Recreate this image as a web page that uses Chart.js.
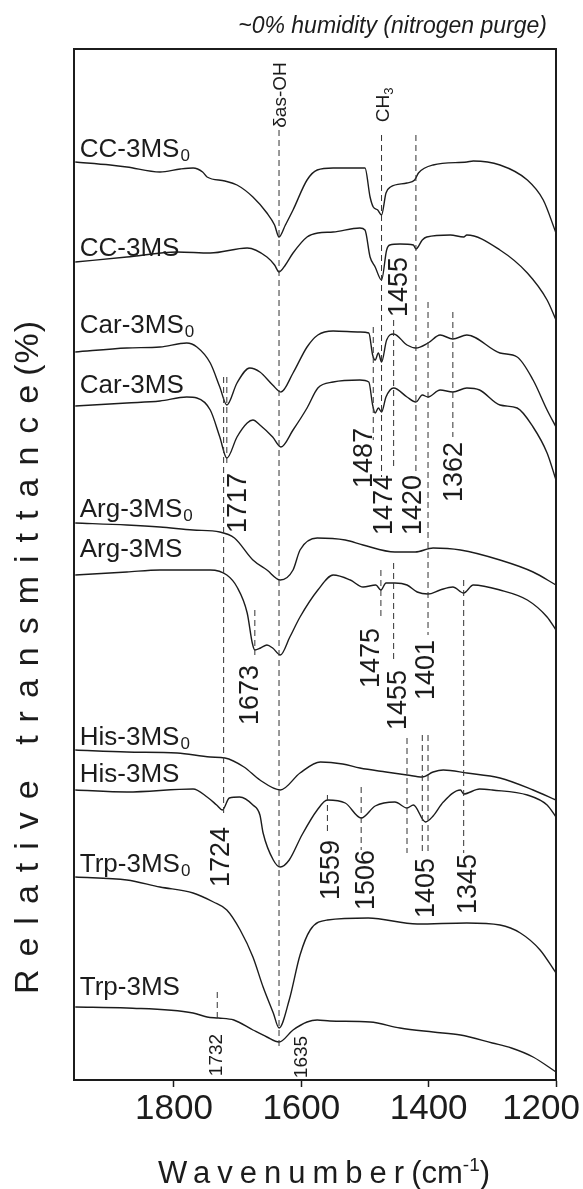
<!DOCTYPE html>
<html>
<head>
<meta charset="utf-8">
<script src="https://cdn.jsdelivr.net/npm/chart.js@4.4.1/dist/chart.umd.min.js"></script>
<style>
  html, body { margin: 0; padding: 0; background: #fff; }
  canvas { display: block; }
</style>
</head>
<body>
<canvas id="ftirChart" width="583" height="1189" style="width:583px;height:1189px"></canvas>
<script>
// --- data: wavenumber (cm-1) and stacked relative transmittance (plot units) ---
const tickValues = [1200, 1400, 1600, 1800];
const xRange = [1200, 1957];
const yRange = [0, 1031];

const ccMs0 = [[1955,918],[1900,915],[1874,913],[1822,908],[1790,911],[1770,912],[1755,908],[1748,903],[1720,899],[1701,895],[1676,883],[1654,867],[1642,855],[1635,843],[1625,855],[1613,870],[1591,900],[1575,910],[1550,912],[1500,912],[1492,883],[1487,873],[1480,870],[1474,865],[1467,887],[1460,893],[1434,897],[1422,900],[1416,907],[1393,915],[1340,918],[1330,919],[1288,915],[1245,900],[1220,880],[1200,847]];
const ccMs = [[1955,818],[1874,823],[1795,828],[1743,827],[1685,832],[1654,823],[1642,815],[1635,808],[1625,815],[1613,827],[1591,843],[1574,847],[1550,848],[1508,852],[1500,850],[1492,823],[1484,813],[1474,800],[1466,830],[1461,835],[1445,836],[1424,835],[1420,831],[1410,840],[1403,843],[1366,845],[1345,843],[1340,845],[1288,830],[1245,807],[1214,780],[1200,760]];
const carMs0 = [[1955,728],[1874,732],[1822,733],[1780,737],[1764,733],[1743,717],[1728,693],[1717,675],[1701,697],[1681,712],[1665,708],[1645,695],[1632,688],[1613,707],[1591,733],[1574,745],[1550,749],[1508,748],[1494,747],[1488,725],[1484,720],[1479,727],[1474,718],[1466,740],[1455,746],[1434,735],[1420,732],[1401,737],[1382,745],[1362,741],[1340,745],[1288,727],[1261,723],[1236,700],[1214,670],[1200,653]];
const carMs = [[1955,674],[1874,677],[1822,679],[1780,683],[1764,682],[1743,670],[1728,643],[1717,622],[1701,643],[1685,657],[1676,660],[1665,655],[1645,643],[1632,633],[1613,650],[1591,672],[1574,692],[1550,698],[1508,700],[1494,698],[1488,675],[1484,667],[1479,672],[1474,668],[1467,683],[1455,692],[1434,683],[1420,678],[1410,685],[1401,683],[1382,690],[1362,688],[1340,692],[1320,690],[1288,675],[1261,672],[1236,653],[1214,627],[1200,600]];
const argMs0 = [[1955,557],[1874,555],[1822,553],[1770,550],[1728,548],[1705,542],[1676,520],[1654,510],[1633,500],[1613,510],[1602,530],[1575,542],[1531,540],[1503,535],[1453,528],[1421,528],[1393,532],[1350,530],[1288,520],[1236,508],[1200,495]];
const argMs = [[1955,505],[1874,508],[1822,510],[1743,510],[1717,505],[1701,493],[1685,467],[1677,437],[1673,430],[1664,432],[1654,435],[1645,432],[1633,425],[1618,443],[1602,463],[1574,490],[1550,505],[1523,500],[1503,493],[1483,495],[1475,490],[1467,497],[1453,497],[1434,495],[1418,488],[1401,486],[1382,490],[1362,493],[1345,487],[1330,495],[1288,490],[1245,480],[1214,463],[1200,450]];
const hisMs0 = [[1955,330],[1874,328],[1795,327],[1743,323],[1720,322],[1690,313],[1665,300],[1633,290],[1602,307],[1570,318],[1535,316],[1508,312],[1467,308],[1434,305],[1410,303],[1393,308],[1377,310],[1340,307],[1288,302],[1236,290],[1200,280]];
const hisMs = [[1955,290],[1874,288],[1770,291],[1748,283],[1733,275],[1724,270],[1713,282],[1697,283],[1676,275],[1665,265],[1660,247],[1644,220],[1633,213],[1619,220],[1599,245],[1575,270],[1559,280],[1531,277],[1506,262],[1484,274],[1453,278],[1434,272],[1424,275],[1405,258],[1393,264],[1377,278],[1350,290],[1345,286],[1320,291],[1300,290],[1245,285],[1214,275],[1200,263]];
const trpMs0 = [[1955,203],[1874,200],[1822,193],[1770,187],[1738,178],[1717,170],[1696,150],[1676,123],[1660,93],[1644,67],[1635,52],[1619,80],[1602,125],[1586,150],[1559,160],[1495,162],[1418,156],[1340,157],[1288,155],[1256,147],[1225,130],[1200,107]];
const trpMs = [[1955,73],[1874,72],[1770,67],[1748,63],[1730,62],[1706,60],[1676,50],[1654,43],[1635,38],[1613,50],[1591,58],[1575,60],[1555,59],[1492,58],[1445,52],[1393,48],[1350,45],[1300,37],[1270,32],[1236,23],[1200,8]];

// sample name, subscript 0?, baseline level
const curveLabels = [
  ['CC-3MS', true, 923], ['CC-3MS', false, 824],
  ['Car-3MS', true, 747], ['Car-3MS', false, 687],
  ['Arg-3MS', true, 563], ['Arg-3MS', false, 523],
  ['His-3MS', true, 335], ['His-3MS', false, 298],
  ['Trp-3MS', true, 208], ['Trp-3MS', false, 85]
];
const curveLabelWn = 1948;

// dashed guide lines: wavenumber, top level, bottom level
const markerLines = [
  [1635, 950, 30], [1474, 945, 603], [1420, 945, 607],
  [1487, 753, 640], [1455, 760, 610], [1401, 778, 445], [1362, 768, 643],
  [1717, 703, 617], [1722, 703, 265], [1673, 470, 425],
  [1475, 510, 460], [1455, 517, 420],
  [1434, 342, 227], [1410, 345, 227], [1401, 345, 227], [1345, 500, 227],
  [1559, 285, 248], [1506, 293, 230], [1732, 88, 60]
];

// peak numbers (rotated): text, wavenumber, level
const peakLabels = [
  ['1717', 1699, 577], ['1487', 1500, 622], ['1474', 1470, 575], ['1455', 1445, 793],
  ['1420', 1423, 575], ['1362', 1360, 608], ['1673', 1679, 385], ['1475', 1490, 422],
  ['1455', 1447, 380], ['1401', 1404, 410], ['1724', 1726, 223], ['1559', 1553, 210],
  ['1506', 1497, 200], ['1405', 1403, 192], ['1345', 1337, 196]
];
const smallPeakLabels = [['1732', 1732, 25], ['1635', 1600, 23]];

const FONT = '"Liberation Sans", Arial, Helvetica, sans-serif';
const INK = '#1c1c1c';

const toPts = arr => arr.map(p => ({ x: p[0], y: p[1] }));
const curves = [ccMs0, ccMs, carMs0, carMs, argMs0, argMs, hisMs0, hisMs, trpMs0, trpMs];

const datasets = [];
markerLines.forEach(m => {
  datasets.push({
    data: [{ x: m[0], y: m[1] }, { x: m[0], y: m[2] }],
    borderColor: '#333', borderWidth: 1, borderDash: [6, 4], pointRadius: 0
  });
});
curves.forEach(c => {
  datasets.push({
    data: toPts(c), borderColor: INK, borderWidth: 1.4,
    cubicInterpolationMode: 'monotone', pointRadius: 0
  });
});

function rotText(ctx, str, px, py, size) {
  ctx.save();
  ctx.translate(px, py);
  ctx.rotate(-Math.PI / 2);
  ctx.font = size + 'px ' + FONT;
  ctx.textAlign = 'center';
  ctx.textBaseline = 'middle';
  ctx.fillText(str, 0, 0);
  ctx.restore();
}

const decor = {
  id: 'decor',
  afterDraw(chart) {
    const { ctx, chartArea: a, scales: { x, y } } = chart;
    ctx.save();
    ctx.fillStyle = INK;
    ctx.strokeStyle = INK;

    // frame
    ctx.lineWidth = 2;
    ctx.strokeRect(a.left, a.top, a.right - a.left, a.bottom - a.top);

    // tick labels
    ctx.font = '35px ' + FONT;
    ctx.textAlign = 'center';
    ctx.textBaseline = 'alphabetic';
    tickValues.forEach(t => {
      const w = ctx.measureText(String(t)).width;
      const cx = Math.min(x.getPixelForValue(t), chart.width - w / 2 - 3);
      ctx.fillText(String(t), cx, a.bottom + 39);
    });

    // sample names
    curveLabels.forEach(([name, sub, lvl]) => {
      const px = x.getPixelForValue(curveLabelWn), py = y.getPixelForValue(lvl);
      ctx.textAlign = 'left';
      ctx.font = '26px ' + FONT;
      ctx.fillText(name, px, py);
      if (sub) {
        const w = ctx.measureText(name).width;
        ctx.font = '17px ' + FONT;
        ctx.fillText('0', px + w + 1, py + 4);
      }
    });

    // peak numbers
    peakLabels.forEach(([t, wn, lvl]) => rotText(ctx, t, x.getPixelForValue(wn), y.getPixelForValue(lvl), 27));
    smallPeakLabels.forEach(([t, wn, lvl]) => rotText(ctx, t, x.getPixelForValue(wn), y.getPixelForValue(lvl), 19));

    // band assignments
    rotText(ctx, '\u03b4as-OH', x.getPixelForValue(1632), y.getPixelForValue(985), 19);
    ctx.save();
    ctx.translate(x.getPixelForValue(1473), y.getPixelForValue(975));
    ctx.rotate(-Math.PI / 2);
    ctx.textAlign = 'left';
    ctx.font = '19px ' + FONT;
    const wCH = ctx.measureText('CH').width;
    ctx.fillText('CH', -(wCH + 7) / 2, 7);
    ctx.font = '13px ' + FONT;
    ctx.fillText('3', -(wCH + 7) / 2 + wCH, 11);
    ctx.restore();

    // title
    ctx.font = 'italic 23px ' + FONT;
    ctx.textAlign = 'right';
    ctx.fillText('~0% humidity (nitrogen purge)', 547, 33);

    // x axis title
    ctx.textAlign = 'left';
    ctx.font = '31px ' + FONT;
    ctx.letterSpacing = '7px';
    const w1 = ctx.measureText('Wavenumber').width;
    ctx.letterSpacing = '0px';
    const w2 = ctx.measureText('(cm').width;
    ctx.font = '19px ' + FONT;
    const w3 = ctx.measureText('-1').width;
    ctx.font = '31px ' + FONT;
    const w4 = ctx.measureText(')').width;
    let sx = 324 - (w1 + w2 + w3 + w4) / 2;
    const by = 1183;
    ctx.letterSpacing = '7px';
    ctx.fillText('Wavenumber', sx, by); sx += w1;
    ctx.letterSpacing = '0px';
    ctx.fillText('(cm', sx, by); sx += w2;
    ctx.font = '19px ' + FONT;
    ctx.fillText('-1', sx, by - 12); sx += w3;
    ctx.font = '31px ' + FONT;
    ctx.fillText(')', sx, by);

    // y axis title (spaced letters, compact "(%)")
    ctx.save();
    ctx.translate(29, 655);
    ctx.rotate(-Math.PI / 2);
    ctx.font = '34px ' + FONT;
    ctx.textAlign = 'left';
    ctx.textBaseline = 'middle';
    ctx.letterSpacing = '13px';
    const yt1 = ctx.measureText('Relative transmittance').width;
    ctx.letterSpacing = '1px';
    const yt2 = ctx.measureText('(%)').width;
    let ys = -(yt1 + yt2) / 2;
    ctx.letterSpacing = '13px';
    ctx.fillText('Relative transmittance', ys, 0);
    ctx.letterSpacing = '1px';
    ctx.fillText('(%)', ys + yt1 - 4, 0);
    ctx.restore();

    ctx.restore();
  }
};

new Chart(document.getElementById('ftirChart'), {
  type: 'line',
  data: { datasets },
  options: {
    responsive: false,
    animation: false,
    devicePixelRatio: 1,
    layout: { padding: { left: 74, right: 27, top: 49, bottom: 0 } },
    plugins: { legend: { display: false }, tooltip: { enabled: false } },
    scales: {
      x: {
        type: 'linear', reverse: true, min: xRange[0], max: xRange[1],
        afterBuildTicks: s => { s.ticks = tickValues.map(v => ({ value: v })); },
        afterFit: s => { s.height = 109; s.paddingLeft = 0; s.paddingRight = 0; },
        grid: { drawOnChartArea: false, drawTicks: true, tickLength: 7, tickWidth: 1.5, tickColor: INK },
        border: { display: true, color: INK, width: 2 },
        ticks: { display: false }
      },
      y: { display: false, min: yRange[0], max: yRange[1] }
    }
  },
  plugins: [decor]
});
</script>
</body>
</html>
